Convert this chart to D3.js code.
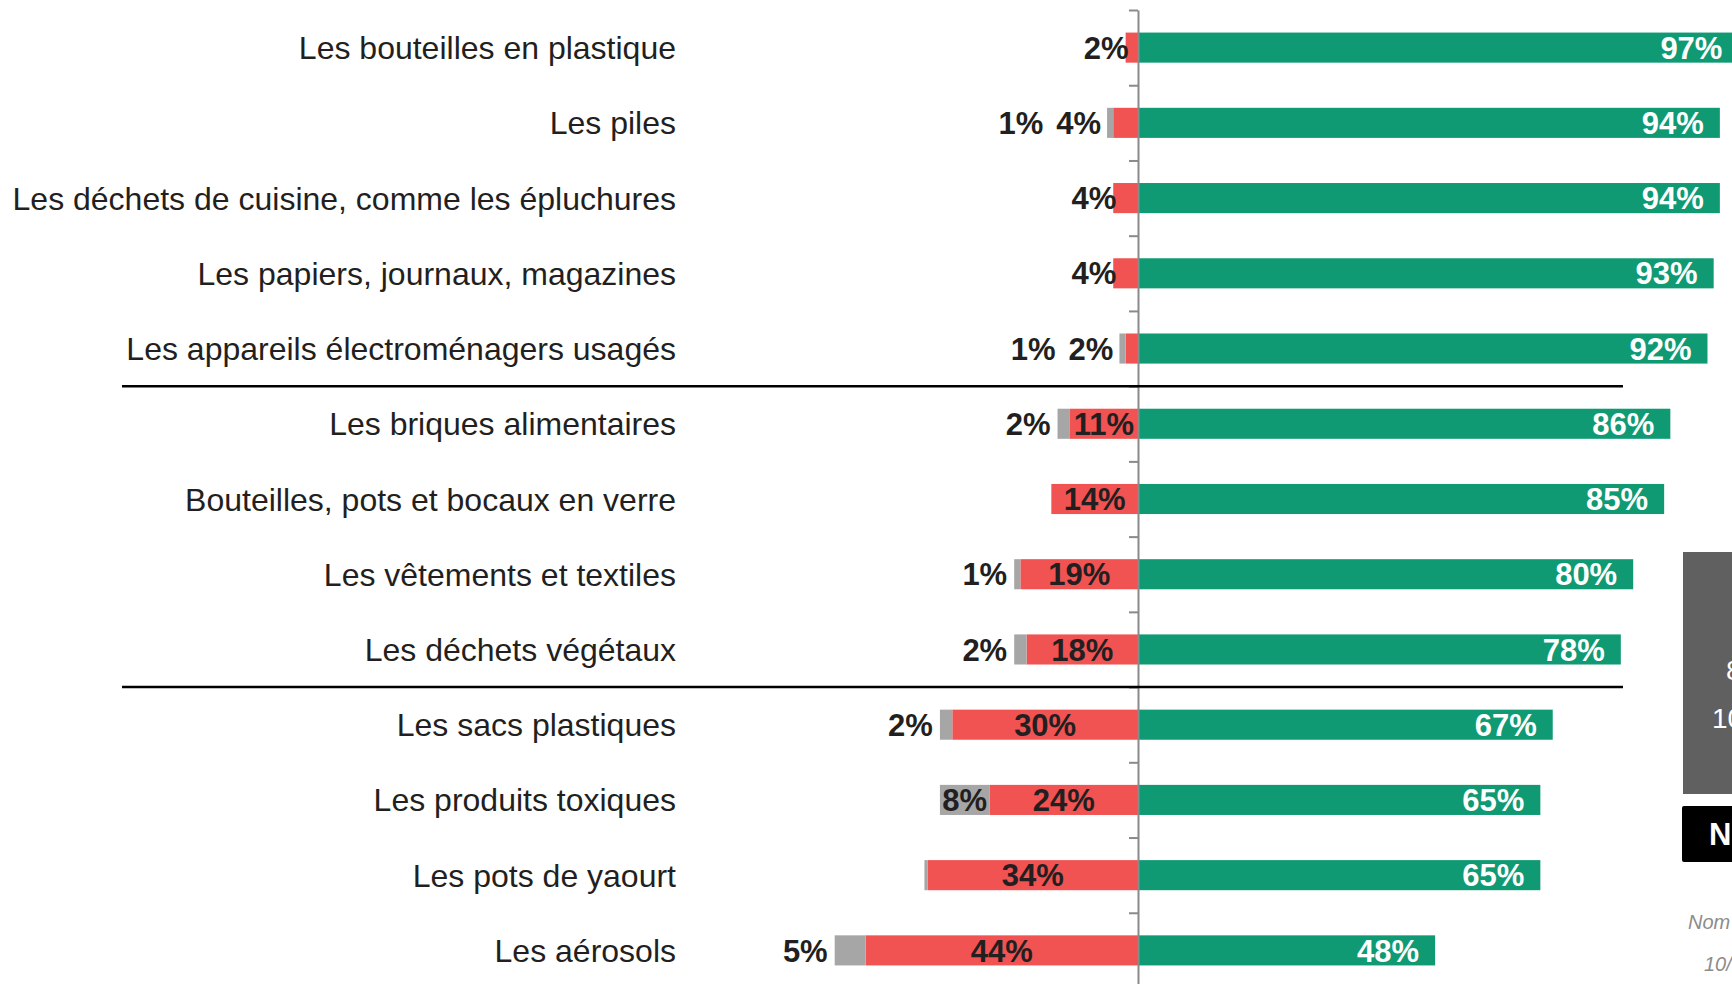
<!DOCTYPE html>
<html>
<head>
<meta charset="utf-8">
<script src="https://cdn.jsdelivr.net/npm/d3@7"></script>
<style>
  body { margin: 0; background: #fff; }
  svg { display: block; font-family: "Liberation Sans", Arial, sans-serif; }
</style>
</head>
<body>
<div id="chart"></div>
<script>
var width = 1732;
var height = 984;

// data
const categories = [
  "Les bouteilles en plastique",
  "Les piles",
  "Les déchets de cuisine, comme les épluchures",
  "Les papiers, journaux, magazines",
  "Les appareils électroménagers usagés",
  "Les briques alimentaires",
  "Bouteilles, pots et bocaux en verre",
  "Les vêtements et textiles",
  "Les déchets végétaux",
  "Les sacs plastiques",
  "Les produits toxiques",
  "Les pots de yaourt",
  "Les aérosols"
];
const greenVals = [97, 94, 94, 93, 92, 86, 85, 80, 78, 67, 65, 65, 48];
const redVals   = [2, 4, 4, 4, 2, 11, 14, 19, 18, 30, 24, 34, 44];
const grayVals  = [0, 1, 0, 0, 1, 2, 0, 1, 2, 2, 8, 0.5, 5];
const groupBreaks = [5, 9]; // separator lines after these rows

const green = "#109a74", red = "#f05352", grey = "#a6a6a6", ink = "#231f20";

var x0 = 1138;
var x = d3.scaleLinear().domain([0, 100]).range([x0, x0 + 619]);
var xl = d3.scaleLinear().domain([0, 100]).range([x0, x0 - 619]);

var y = d3.scaleBand()
  .domain(categories)
  .range([10, 988])
  .paddingInner(0.6)
  .paddingOuter(0.3);
var step = y.step();
var yEdge = d3.scaleLinear().domain([0, categories.length]).range([10, 10 + step * categories.length]);

var svg = d3.select("#chart").append("svg")
  .attr("width", width)
  .attr("height", height);

var rows = categories.map(function(c, i) {
  return { cat: c, g: greenVals[i], r: redVals[i], k: grayVals[i] };
});

// bars
var row = svg.append("g").selectAll("g")
  .data(rows)
  .enter().append("g");

row.append("rect")
  .attr("x", x0)
  .attr("y", d => y(d.cat))
  .attr("width", d => x(d.g) - x0)
  .attr("height", y.bandwidth())
  .attr("fill", green);

row.append("rect")
  .attr("x", d => xl(d.r))
  .attr("y", d => y(d.cat))
  .attr("width", d => x0 - xl(d.r))
  .attr("height", y.bandwidth())
  .attr("fill", red);

row.filter(d => d.k > 0).append("rect")
  .attr("x", d => xl(d.r + d.k))
  .attr("y", d => y(d.cat))
  .attr("width", d => xl(d.r) - xl(d.r + d.k))
  .attr("height", y.bandwidth())
  .attr("fill", grey);

// axis with ticks between rows
svg.append("g")
  .attr("transform", "translate(" + x0 + ",0)")
  .call(d3.axisLeft(yEdge).tickValues(d3.range(0, categories.length + 1)).tickSize(9).tickSizeOuter(0).tickFormat(""))
  .call(g => g.selectAll("line").attr("stroke", "#8a8a8a").attr("stroke-width", 2))
  .call(g => g.select(".domain").attr("stroke", "#8a8a8a").attr("stroke-width", 2));

// group separators
svg.append("g").selectAll("line")
  .data(groupBreaks)
  .enter().append("line")
  .attr("x1", 122)
  .attr("x2", 1623)
  .attr("y1", d => yEdge(d))
  .attr("y2", d => yEdge(d))
  .attr("stroke", "#000")
  .attr("stroke-width", 2.5);

// category labels
svg.append("g").selectAll("text")
  .data(rows)
  .enter().append("text")
  .attr("x", 676)
  .attr("y", d => y(d.cat) + y.bandwidth() / 2)
  .attr("dy", "0.36em")
  .attr("text-anchor", "end")
  .attr("font-size", 32)
  .attr("fill", ink)
  .text(d => d.cat);

var fs = 31;
var lab = svg.append("g")
  .attr("font-size", fs)
  .attr("font-weight", "bold");

rows.forEach(function(d) {
  var cy = y(d.cat) + y.bandwidth() / 2;

  lab.append("text")
    .attr("x", x(d.g) - 16)
    .attr("y", cy).attr("dy", "0.36em")
    .attr("text-anchor", "end")
    .attr("fill", "#fff")
    .text(d.g + "%");

  var redStart = xl(d.r + d.k);
  var t = lab.append("text")
    .attr("y", cy).attr("dy", "0.36em")
    .attr("fill", ink)
    .text(d.r + "%");
  if (d.r >= 10) {
    t.attr("x", (xl(d.r) + x0) / 2).attr("text-anchor", "middle");
  } else {
    var ex = d.k > 0 ? xl(d.r + d.k) - 6 : xl(d.r) + 3;
    t.attr("x", ex).attr("text-anchor", "end");
    redStart = ex - t.node().getComputedTextLength();
  }

  if (d.k >= 1) {
    var gt = lab.append("text")
      .attr("y", cy).attr("dy", "0.36em")
      .attr("fill", ink)
      .text(d.k + "%");
    var w = gt.node().getComputedTextLength();
    var barW = xl(d.r) - xl(d.r + d.k);
    if (barW > w) {
      gt.attr("x", (xl(d.r) + xl(d.r + d.k)) / 2).attr("text-anchor", "middle");
    } else if (d.r >= 10) {
      gt.attr("x", xl(d.r + d.k) - 7).attr("text-anchor", "end");
    } else {
      gt.attr("x", redStart - 13).attr("text-anchor", "end");
    }
  }
});

// cut-off side panel at the right edge
svg.append("rect")
  .attr("x", 1683).attr("y", 552)
  .attr("width", 60).attr("height", 242)
  .attr("fill", "#5f605f");
svg.append("text")
  .attr("x", 1726).attr("y", 680)
  .attr("font-size", 28).attr("fill", "#fff")
  .text("8");
svg.append("text")
  .attr("x", 1712).attr("y", 728)
  .attr("font-size", 28).attr("fill", "#fff")
  .text("10");

svg.append("rect")
  .attr("x", 1682).attr("y", 806)
  .attr("width", 60).attr("height", 56)
  .attr("rx", 2)
  .attr("fill", "#000");
svg.append("text")
  .attr("x", 1709).attr("y", 845)
  .attr("font-size", 31).attr("font-weight", "bold").attr("fill", "#fff")
  .text("N");

svg.append("text")
  .attr("x", 1688).attr("y", 929)
  .attr("font-size", 20).attr("font-style", "italic").attr("fill", "#8c8c8c")
  .text("Nom");
svg.append("text")
  .attr("x", 1704).attr("y", 971)
  .attr("font-size", 20).attr("font-style", "italic").attr("fill", "#8c8c8c")
  .text("10/");
</script>
</body>
</html>
